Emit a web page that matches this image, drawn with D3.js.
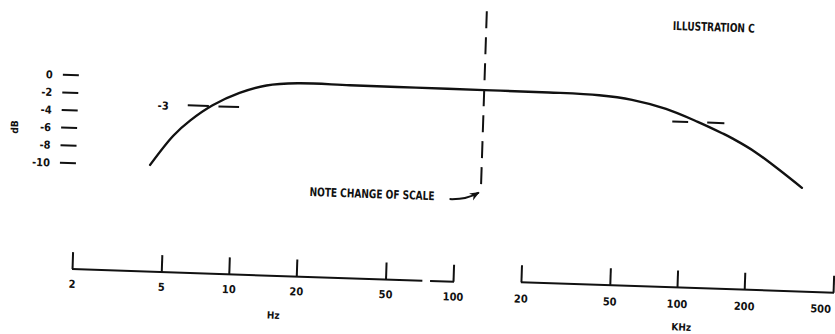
<!DOCTYPE html>
<html>
<head>
<meta charset="utf-8">
<script src="https://cdn.jsdelivr.net/npm/d3@7"></script>
<style>
  body { margin: 0; background: #fff; }
  text { font-family: "Liberation Sans Narrow", "DejaVu Sans Condensed", sans-serif; font-weight: bold; fill: #111; }
</style>
</head>
<body>
<svg id="chart" width="835" height="334"></svg>
<script>
// dB scale on the left
var dbTicks = [0, -2, -4, -6, -8, -10];
// low frequency scale (Hz) and high frequency scale (kHz)
var hzTicks = [2, 5, 10, 20, 50, 100];
var khzTicks = [20, 50, 100, 200, 500];

// response curve: [frequency, dB]
var lowCurve = [[4.3, -9.9], [5.4, -6.5], [6.4, -4.7], [8.0, -2.9], [10.5, -1.4],
                [13.8, -0.45], [19, -0.08], [32.5, -0.1], [64, -0.13], [129, -0.15]];
var highCurve = [[12.9, -0.15], [25, -0.17], [42, -0.3], [59, -0.7], [84, -1.6],
                 [117, -2.95], [151, -4.15], [168, -4.7], [215, -6.2], [350, -10.05]];

// -3 dB markers, split where the curve crosses them
var markerDb = -3;
var lowMarker = [[6.2, 7.7], [8.5, 10.5]];     // Hz
var highMarker = [[90, 106], [129, 154]];      // kHz

// where the scale changes, and the small gap in the Hz axis line
var breakHz = 129;
var hzGap = [73, 79];

var svg = d3.select('#chart');

// the scanned drawing sits a little rotated on the page
var g = svg.append('g').attr('transform', 'rotate(1.9,417,167)');

var xHz = d3.scaleLog().domain([2, 100]).range([75.6, 456.8]);
var xKhz = d3.scaleLog().domain([20, 500]).range([524.7, 837]);
var y = d3.scaleLinear().domain([0, -10]).range([86.6, 174.6]);

var HZ_BASE = 280.5, KHZ_BASE = 278.8;

function styleAxis(sel) {
    sel.select('.domain').remove();
    sel.selectAll('.tick line').attr('stroke', '#111').attr('stroke-width', 2);
    sel.selectAll('.tick text')
        .attr('font-size', 11)
        .style('font-family', '"Liberation Sans Narrow", "DejaVu Sans Condensed", sans-serif')
        .style('font-weight', 'bold')
        .attr('fill', '#111');
}

// Hz axis
var hzAxis = g.append('g')
    .attr('transform', 'translate(0,' + HZ_BASE + ')')
    .call(d3.axisBottom(xHz).tickValues(hzTicks).tickFormat(d3.format('d'))
        .tickSizeInner(-17).tickSizeOuter(0).tickPadding(11));
styleAxis(hzAxis);

hzAxis.append('path')
    .attr('fill', 'none').attr('stroke', '#111').attr('stroke-width', 2)
    .attr('d', 'M' + xHz(2) + ',0H' + xHz(hzGap[0]) + 'M' + xHz(hzGap[1]) + ',0H' + (xHz(100) + 1));

// kHz axis
var khzAxis = g.append('g')
    .attr('transform', 'translate(0,' + KHZ_BASE + ')')
    .call(d3.axisBottom(xKhz).tickValues(khzTicks).tickFormat(d3.format('d'))
        .tickSizeInner(-17).tickSizeOuter(0).tickPadding(12.5));
styleAxis(khzAxis);
khzAxis.selectAll('.tick text').filter(function (d) { return d === 500; })
    .attr('text-anchor', 'end').attr('dx', -2);

khzAxis.append('path')
    .attr('fill', 'none').attr('stroke', '#111').attr('stroke-width', 2)
    .attr('d', 'M' + xKhz(20) + ',0H' + (xKhz(500) + 1));

g.append('text').attr('x', xHz(16)).attr('y', HZ_BASE + 43)
    .attr('text-anchor', 'middle').attr('font-size', 10).text('Hz');
g.append('text').attr('x', xKhz(106)).attr('y', KHZ_BASE + 43)
    .attr('text-anchor', 'middle').attr('font-size', 10).text('KHz');

// dB ticks: short dashes with labels
var dbG = g.append('g');
dbG.selectAll('line').data(dbTicks).enter().append('line')
    .attr('x1', 60).attr('x2', 76)
    .attr('y1', function (d) { return y(d); }).attr('y2', function (d) { return y(d); })
    .attr('stroke', '#111').attr('stroke-width', 2);
dbG.selectAll('text').data(dbTicks).enter().append('text')
    .attr('x', 50).attr('y', function (d) { return y(d); }).attr('dy', '0.36em')
    .attr('text-anchor', 'end').attr('font-size', 11)
    .text(function (d) { return d; });

g.append('text')
    .attr('transform', 'translate(17,' + y(-6.1) + ') rotate(-90)')
    .attr('text-anchor', 'middle').attr('font-size', 10).text('dB');

// response curve, continuous across the change of scale
var pts = lowCurve.map(function (d) { return [xHz(d[0]), y(d[1])]; })
    .concat(highCurve.slice(1).map(function (d) { return [xKhz(d[0]), y(d[1])]; }));

g.append('path')
    .attr('fill', 'none').attr('stroke', '#111').attr('stroke-width', 2.4)
    .attr('stroke-linecap', 'round')
    .attr('d', d3.line().curve(d3.curveCatmullRom.alpha(0.5))(pts));

// -3 dB markers
function drawMarker(segs, scale) {
    g.append('g').selectAll('line').data(segs).enter().append('line')
        .attr('x1', function (d) { return scale(d[0]); })
        .attr('x2', function (d) { return scale(d[1]); })
        .attr('y1', y(markerDb)).attr('y2', y(markerDb))
        .attr('stroke', '#111').attr('stroke-width', 2);
}
drawMarker(lowMarker, xHz);
drawMarker(highMarker, xKhz);

g.append('text').attr('x', xHz(lowMarker[0][0]) - 19).attr('y', y(markerDb) + 1)
    .attr('dy', '0.36em').attr('text-anchor', 'end').attr('font-size', 11).text('-3');

// dashed line marking the change of scale
var breakX = xHz(breakHz);
g.append('line')
    .attr('x1', breakX).attr('x2', breakX)
    .attr('y1', 9).attr('y2', 191)
    .attr('stroke', '#111').attr('stroke-width', 2)
    .attr('stroke-dasharray', '17,9');

svg.append('defs').append('marker')
    .attr('id', 'head').attr('viewBox', '0 0 10 10')
    .attr('refX', 9).attr('refY', 5)
    .attr('markerWidth', 5).attr('markerHeight', 5)
    .attr('orient', 'auto')
    .append('path').attr('d', 'M0,1L10,5L0,9L3,5Z').attr('fill', '#111');

g.append('path')
    .attr('fill', 'none').attr('stroke', '#111').attr('stroke-width', 2)
    .attr('marker-end', 'url(#head)')
    .attr('d', 'M' + (breakX - 31) + ',198 Q' + (breakX - 14) + ',198 ' + (breakX - 2) + ',190.5');

g.append('text').attr('x', 373).attr('y', 199.5)
    .attr('text-anchor', 'middle').attr('font-size', 12)
    .attr('textLength', 125).attr('lengthAdjust', 'spacingAndGlyphs')
    .text('NOTE CHANGE OF SCALE');

g.append('text').attr('x', 709).attr('y', 21.5)
    .attr('text-anchor', 'middle').attr('font-size', 12)
    .attr('textLength', 82).attr('lengthAdjust', 'spacingAndGlyphs')
    .text('ILLUSTRATION C');
</script>
</body>
</html>
